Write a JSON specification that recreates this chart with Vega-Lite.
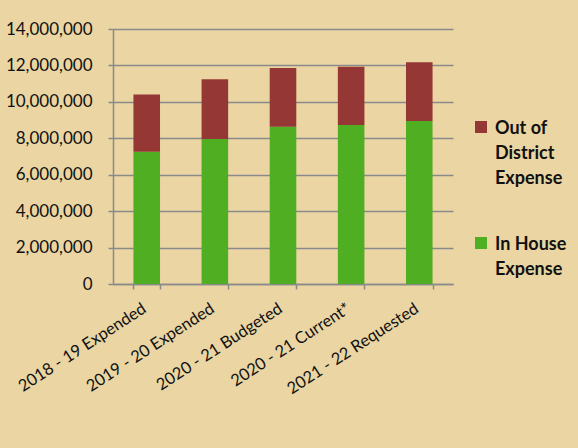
{
  "$schema": "https://vega.github.io/schema/vega-lite/v6.json",
  "width": 340,
  "height": 255,
  "autosize": {"type": "none"},
  "padding": {"left": 113, "top": 29, "right": 125, "bottom": 164},
  "background": "#EAD5A3",
  "data": {
    "values": [
      {"period": "2018 - 19 Expended", "type": "In House Expense", "amount": 7260000},
      {"period": "2018 - 19 Expended", "type": "Out of District Expense", "amount": 3150000},
      {"period": "2019 - 20 Expended", "type": "In House Expense", "amount": 7960000},
      {"period": "2019 - 20 Expended", "type": "Out of District Expense", "amount": 3280000},
      {"period": "2020 - 21 Budgeted", "type": "In House Expense", "amount": 8640000},
      {"period": "2020 - 21 Budgeted", "type": "Out of District Expense", "amount": 3220000},
      {"period": "2020 - 21 Current*", "type": "In House Expense", "amount": 8730000},
      {"period": "2020 - 21 Current*", "type": "Out of District Expense", "amount": 3200000},
      {"period": "2021 - 22 Requested", "type": "In House Expense", "amount": 8950000},
      {"period": "2021 - 22 Requested", "type": "Out of District Expense", "amount": 3220000}
    ]
  },
  "mark": {"type": "bar"},
  "encoding": {
    "x": {
      "field": "period",
      "type": "nominal",
      "sort": null,
      "scale": {"paddingInner": 0.61, "paddingOuter": 0.3},
      "axis": {
        "title": null,
        "labelAngle": -33,
        "labelFont": "Lato",
        "labelFontSize": 16.5,
        "labelColor": "#111111",
        "labelPadding": 11,
        "labelOffset": -7,
        "tickBand": "extent",
        "tickColor": "#8a8a8a",
        "tickSize": 5,
        "tickWidth": 1.5,
        "domainColor": "#8a8a8a",
        "domainWidth": 1.5,
        "grid": false
      }
    },
    "y": {
      "field": "amount",
      "type": "quantitative",
      "aggregate": "sum",
      "stack": "zero",
      "scale": {"domain": [0, 14000000], "nice": false},
      "axis": {
        "title": null,
        "values": [0, 2000000, 4000000, 6000000, 8000000, 10000000, 12000000, 14000000],
        "format": ",d",
        "labelFont": "Lato",
        "labelFontSize": 17,
        "labelColor": "#111111",
        "labelPadding": 16,
        "tickColor": "#8a8a8a",
        "tickSize": 5,
        "tickWidth": 1.5,
        "domainColor": "#8a8a8a",
        "domainWidth": 1.5,
        "grid": true,
        "gridColor": "#8a8a8a",
        "gridWidth": 1.5
      }
    },
    "color": {
      "field": "type",
      "type": "nominal",
      "scale": {
        "domain": ["Out of District Expense", "In House Expense"],
        "range": ["#953735", "#4FAE22"]
      },
      "legend": {
        "title": null,
        "orient": "none",
        "legendX": 359,
        "legendY": 89,
        "padding": 0,
        "symbolType": "square",
        "symbolSize": 144,
        "symbolStrokeWidth": 0,
        "symbolOpacity": 1,
        "labelFont": "Lato",
        "labelFontSize": 18,
        "labelFontWeight": "bold",
        "labelColor": "#111111",
        "labelLimit": 0,
        "labelOffset": 5,
        "labelBaseline": "top",
        "labelExpr": "datum.label == 'Out of District Expense' ? ['Out of', 'District', 'Expense'] : ['In House', 'Expense']",
        "rowPadding": 46,
        "encode": {
          "labels": {"update": {"lineHeight": {"value": 25}, "dy": {"value": -7}}}
        }
      }
    },
    "order": {"field": "type", "sort": "ascending"}
  },
  "config": {
    "view": {"stroke": null}
  }
}
